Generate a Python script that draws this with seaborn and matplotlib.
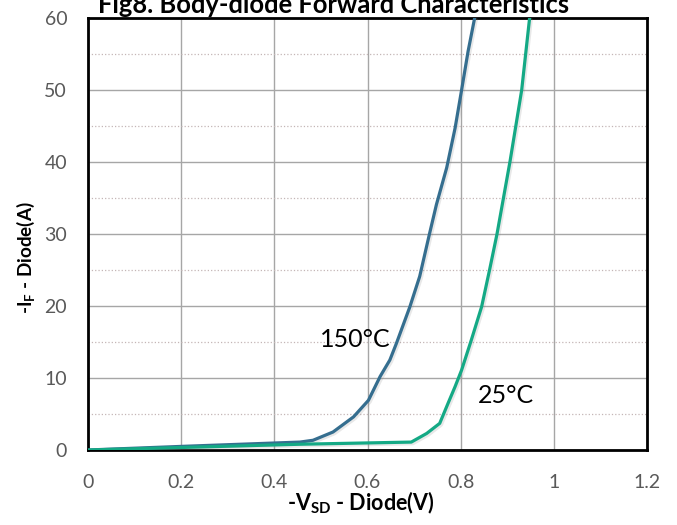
import matplotlib
matplotlib.use("Agg")
import matplotlib.pyplot as plt
import matplotlib.patheffects as pe
import seaborn as sns
import pandas as pd
from matplotlib.ticker import MultipleLocator

sns.set_theme(style="white")
plt.rcParams['font.family'] = ['Lato', 'DejaVu Sans']
plt.rcParams['mathtext.fontset'] = 'custom'
plt.rcParams['mathtext.rm'] = 'Lato'
plt.rcParams['mathtext.bf'] = 'Lato:bold'

# Data
v_150 = [0.0, 0.2, 0.455, 0.483, 0.526, 0.570, 0.602, 0.627, 0.648, 0.662, 0.691, 0.712,
         0.733, 0.748, 0.770, 0.788, 0.802, 0.816, 0.830]
i_150 = [0.0, 0.5, 1.1, 1.35, 2.5, 4.6, 6.9, 10.2, 12.5, 14.8, 19.9, 24.1,
         30.0, 34.1, 39.2, 44.7, 50.0, 55.4, 60.0]
v_25 = [0.0, 0.2, 0.455, 0.694, 0.727, 0.755, 0.773, 0.788, 0.802, 0.823, 0.845, 0.862,
        0.878, 0.906, 0.931, 0.948]
i_25 = [0.0, 0.35, 0.8, 1.1, 2.3, 3.7, 6.5, 8.8, 11.1, 15.3, 19.9, 25.0,
        30.0, 40.1, 50.0, 60.0]
series_names = ["150°C", "25°C"]
x_ticks = [0, 0.2, 0.4, 0.6, 0.8, 1, 1.2]
x_tick_labels = ["0", "0.2", "0.4", "0.6", "0.8", "1", "1.2"]
y_ticks = [0, 10, 20, 30, 40, 50, 60]

df = pd.concat([
    pd.DataFrame({"V": v_150, "I": i_150, "T": series_names[0]}),
    pd.DataFrame({"V": v_25, "I": i_25, "T": series_names[1]}),
])

fig = plt.figure(figsize=(6.77, 5.25), dpi=100)
ax = fig.add_axes([88/677, 1-450/525, (647-88)/677, (450-18)/525])

palette = {series_names[0]: "#356E8F", series_names[1]: "#14A985"}
sns.lineplot(data=df, x="V", y="I", hue="T", palette=palette, sort=False,
             estimator=None, linewidth=2.3, ax=ax, legend=False, zorder=3)
for ln in ax.lines:
    ln.set_solid_joinstyle('round')
    ln.set_solid_capstyle('round')
    ln.set_path_effects([pe.SimpleLineShadow(offset=(1.2, -1.2), alpha=0.18, shadow_color='gray'),
                         pe.Normal()])

ax.set_xlim(0, 1.2)
ax.set_ylim(0, 60)
ax.set_xticks(x_ticks)
ax.set_xticklabels(x_tick_labels)
ax.set_yticks(y_ticks)
ax.yaxis.set_minor_locator(MultipleLocator(5))
ax.grid(which='major', axis='both', color='#A6A6A6', linewidth=1.0, linestyle='-')
ax.grid(which='minor', axis='y', color='#C4B6B6', linewidth=0.9, linestyle=':')
ax.set_axisbelow(True)
ax.tick_params(axis='x', which='both', length=0, labelsize=14, colors='#595959', pad=17)
ax.tick_params(axis='y', which='both', length=0, labelsize=14, colors='#595959', pad=15)

for s in ax.spines.values():
    s.set_visible(True)
    s.set_color('black')
    s.set_linewidth(2.0)

ax.set_xlabel("-V$_\\mathbf{SD}$ - Diode(V)", fontsize=15.5, fontweight='bold', color='black',
              va='baseline')
ax.xaxis.set_label_coords((360.5-88)/559, (450-510)/432)
ax.set_ylabel("-I$_\\mathbf{F}$ - Diode(A)", fontsize=13.6, fontweight='bold', color='black',
              va='center')
ax.yaxis.set_label_coords((26-88)/559, (450-258)/432)

ax.text(0.573, 15.3, "150°C", fontsize=18, ha='center', va='center', color='black')
ax.text(0.897, 7.6, "25°C", fontsize=18, ha='center', va='center', color='black')

fig.text(334/677, 1-13/525, "Fig8. Body-diode Forward Characteristics", fontsize=18.4,
         fontweight='bold', ha='center', va='baseline', color='black')

fig.savefig("out.png", dpi=100)
